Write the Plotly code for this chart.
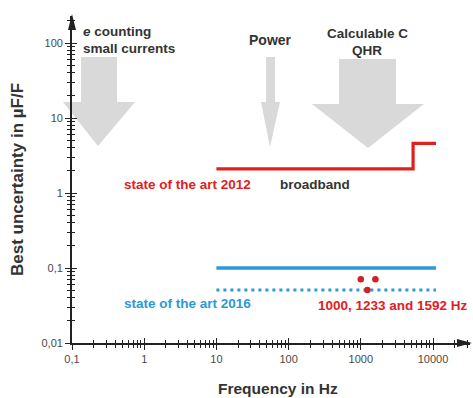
import plotly.graph_objects as go

# ---- data ----
x_ticks = [0.1, 1, 10, 100, 1000, 10000]
x_ticktext = ["0,1", "1", "10", "100", "1000", "10000"]
y_ticks = [0.01, 0.1, 1, 10, 100]
y_ticktext = ["0,01", "0,1", "1", "10", "100"]

red2012_x = [10, 5300, 5300, 11000]
red2012_y = [2.1, 2.1, 4.6, 4.6]
blue2016_x = [10, 11000]
blue2016_y = [0.1, 0.1]
blue2016_dot_x = [10, 11000]
blue2016_dot_y = [0.051, 0.051]
points_x = [1000, 1233, 1592]
points_y = [0.071, 0.051, 0.071]

# ---- layout geometry ----
W, H = 473, 398
ML, MR, MT, MB = 72, 3, 16, 55
PW, PH = W - ML - MR, H - MT - MB
XMIN, YMIN = -1, -2
XMAX = XMIN + PW / 72.2
YMAX = YMIN + PH / 75.0


def px(p):
    return (p - ML) / PW


def py(p):
    return (H - MB - p) / PH


def lx(v):
    return (v - XMIN) / (XMAX - XMIN)


def ly(v):
    return (v - YMIN) / (YMAX - YMIN)


RED = "#e0201e"
BLUE = "#2b9ad6"
GRAY = "#d9d9d9"
AX = "#222222"
TXT = "#333333"
FONT = "Liberation Sans, Arial, sans-serif"

fig = go.Figure()
fig.add_trace(go.Scatter(x=red2012_x, y=red2012_y, mode="lines",
                         line=dict(color=RED, width=3.2), hoverinfo="skip"))
fig.add_trace(go.Scatter(x=blue2016_x, y=blue2016_y, mode="lines",
                         line=dict(color=BLUE, width=3.5), hoverinfo="skip"))
fig.add_trace(go.Scatter(x=blue2016_dot_x, y=blue2016_dot_y, mode="lines",
                         line=dict(color=BLUE, width=3, dash="3px,4px"), hoverinfo="skip"))
fig.add_trace(go.Scatter(x=points_x, y=points_y, mode="markers",
                         marker=dict(color="#d42020", size=6.5), hoverinfo="skip"))
# invisible trace for overlay axes
fig.add_trace(go.Scatter(x=[1], y=[1], xaxis="x2", yaxis="y2", mode="markers",
                         marker=dict(opacity=0), hoverinfo="skip", showlegend=False))

# ---- gray block arrows (log-unit geometry) ----
# (shaft_left, shaft_right, head_left, head_right, tip_x, top_y, base_y, tip_y)
block_arrows = [
    (-0.875, -0.377, -1.125, -0.127, -0.64, 1.813, 1.213, 0.627),
    (1.687, 1.812, 1.618, 1.881, 1.742, 1.813, 1.213, 0.613),
    (2.698, 3.488, 2.324, 3.875, 3.10, 1.787, 1.187, 0.600),
]
shapes = []
for sl, sr, hl, hr, tx, ty, by, tipy in block_arrows:
    pts = [(sl, ty), (sr, ty), (sr, by), (hr, by), (tx, tipy), (hl, by), (sl, by)]
    path = "M " + " L ".join(f"{lx(a):.5f},{ly(b):.5f}" for a, b in pts) + " Z"
    shapes.append(dict(type="path", path=path, xref="paper", yref="paper",
                       fillcolor=GRAY, line=dict(width=0), layer="below"))

# axis arrowheads
shapes.append(dict(type="path", xref="paper", yref="paper",
                   path=f"M {px(68):.5f},{py(30):.5f} L {px(72):.5f},{py(14):.5f} L {px(76):.5f},{py(30):.5f} Z",
                   fillcolor=AX, line=dict(width=0)))
shapes.append(dict(type="path", xref="paper", yref="paper",
                   path=f"M {px(457):.5f},{py(339):.5f} L {px(472):.5f},{py(343):.5f} L {px(457):.5f},{py(347):.5f} Z",
                   fillcolor=AX, line=dict(width=0)))


def ann(text, x, y, color=TXT, size=13.5, xanchor="center", bold=True, angle=0):
    return dict(text=f"<b>{text}</b>" if bold else text, x=px(x), y=py(y),
                xref="paper", yref="paper", showarrow=False, xanchor=xanchor,
                yanchor="middle", textangle=angle,
                font=dict(family=FONT, size=size, color=color))


annotations = [
    ann("<i>e</i> counting", 81, 32, xanchor="left"),
    ann("small currents", 81, 49, xanchor="left"),
    ann("Power", 270, 40, size=14),
    ann("Calculable C", 367, 33),
    ann("QHR", 367, 51),
    ann("state of the art 2012", 122, 185, color=RED, xanchor="left"),
    ann("broadband", 278, 185, xanchor="left"),
    ann("state of the art 2016", 122, 303, color=BLUE, xanchor="left"),
    ann("1000, 1233 and 1592 Hz", 393, 305, color=RED),
    ann("Frequency in Hz", 278, 388, size=15.5),
    ann("Best uncertainty in µF/F", 18, 180, size=17, angle=-90),
]

minor_x = [m * 10 ** e for e in range(-1, 5) for m in range(2, 10)]
minor_y = [m * 10 ** e for e in range(-2, 3) for m in range(2, 10)]

tickfont = dict(family=FONT, size=11, color="#4a4a4a")

common_x = dict(type="log", range=[XMIN, XMAX], showgrid=False, zeroline=False,
                tickvals=x_ticks, ticktext=x_ticktext, ticklen=5, tickwidth=1.3,
                tickcolor=AX, fixedrange=True)
common_y = dict(type="log", range=[YMIN, YMAX], showgrid=False, zeroline=False,
                tickvals=y_ticks, ticktext=y_ticktext, ticklen=5, tickwidth=1.3,
                tickcolor=AX, fixedrange=True)

fig.update_layout(
    width=W, height=H,
    margin=dict(l=ML, r=MR, t=MT, b=MB),
    paper_bgcolor="white", plot_bgcolor="white",
    showlegend=False,
    xaxis=dict(**common_x, ticks="outside", showline=True, linecolor=AX, linewidth=1.8,
               tickfont=tickfont,
               minor=dict(ticks="outside", ticklen=3, tickwidth=1, tickcolor=AX,
                          tickvals=minor_x, showgrid=False)),
    yaxis=dict(**common_y, ticks="outside", showline=True, linecolor=AX, linewidth=1.8,
               tickfont=tickfont,
               minor=dict(ticks="outside", ticklen=3, tickwidth=1, tickcolor=AX,
                          tickvals=minor_y, showgrid=False)),
    xaxis2=dict(**common_x, overlaying="x", anchor="y2", side="bottom", ticks="inside",
                showticklabels=False, showline=False,
                minor=dict(ticks="inside", ticklen=3, tickwidth=1, tickcolor=AX,
                           tickvals=minor_x, showgrid=False)),
    yaxis2=dict(**common_y, overlaying="y", anchor="x2", side="left", ticks="inside",
                showticklabels=False, showline=False,
                minor=dict(ticks="inside", ticklen=3, tickwidth=1, tickcolor=AX,
                           tickvals=minor_y, showgrid=False)),
    shapes=shapes,
    annotations=annotations,
)

fig.write_html("out.html", config={"displayModeBar": False},
               post_script="document.body.style.margin='0';document.body.style.overflow='hidden';")
